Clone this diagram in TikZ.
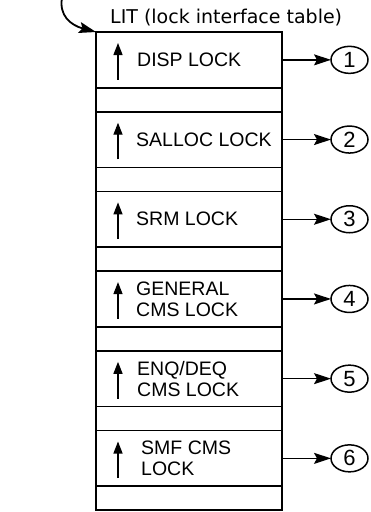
\documentclass[tikz,border=0pt]{standalone}
\usepackage{fontspec}
\setmainfont{Liberation Sans}
\newfontfamily\titlefont{DejaVu Sans}
\usepackage{xcolor}
\usetikzlibrary{shapes.geometric,arrows.meta,positioning}
\definecolor{LitInk}{HTML}{000000}
\definecolor{LitPaper}{HTML}{FFFFFF}
\tikzset{
    % Table cells
    lockcell/.style={
        rectangle,
        draw=LitInk,
        line width=1.6pt,
        fill=LitPaper,
        minimum width=186pt,
        minimum height=55.7pt,
        inner sep=0pt,
        outer sep=0pt
    },
    gapcell/.style={
        lockcell,
        minimum height=24pt
    },
    locktext/.style={
        anchor=west,
        inner sep=0pt,
        align=left,
        text=LitInk,
        font=\fontsize{19.5}{21}\selectfont
    },
    numcircle/.style={
        ellipse,
        draw=LitInk,
        line width=1.5pt,
        minimum width=37pt,
        minimum height=27pt,
        inner sep=0pt,
        outer sep=0pt,
        font=\fontsize{22}{22}\selectfont
    },
    titletext/.style={
        anchor=base west,
        inner sep=0pt,
        font=\titlefont\fontsize{19}{19}\selectfont
    },
    uparrow/.style={
        -{Triangle[length=12pt,width=9pt]},
        line width=1.3pt,
        color=LitInk
    },
    arrow/.style={
        -{Stealth[length=17pt,width=11pt,inset=3pt]},
        line width=1.3pt,
        color=LitInk
    },
    bigarrow/.style={
        arrow,
        line width=1.8pt
    }
}
\begin{document}
\begin{tikzpicture}[x=1pt,y=1pt]
        \useasboundingbox[fill=LitPaper] (0,0) rectangle (370,-512);

        % Table
        \node[lockcell, anchor=north west] (disp) at (96,-32) {};
        \node[gapcell, below=0pt of disp] (dispgap) {};
        \node[lockcell, below=0pt of dispgap] (salloc) {};
        \node[gapcell, below=0pt of salloc] (sallocgap) {};
        \node[lockcell, below=0pt of sallocgap] (srm) {};
        \node[gapcell, below=0pt of srm] (srmgap) {};
        \node[lockcell, below=0pt of srmgap] (general) {};
        \node[gapcell, below=0pt of general] (generalgap) {};
        \node[lockcell, below=0pt of generalgap] (enqdeq) {};
        \node[gapcell, below=0pt of enqdeq] (enqdeqgap) {};
        \node[lockcell, below=0pt of enqdeqgap] (smf) {};
        \node[gapcell, below=0pt of smf] (smfgap) {};

        % Title and pointer
        \node[titletext] (lit) at (110,-23) {LIT (lock interface table)};
        \coordinate (litptr) at (62,2);
        \draw[bigarrow] (litptr) .. controls (59,-15) and (70,-25) .. (disp.north west);

        % Lock names
        \node[locktext, right=41pt of disp.west] (disptext) {DISP LOCK};
        \node[locktext, right=40pt of salloc.west] (salloctext) {SALLOC LOCK};
        \node[locktext, right=40pt of srm.west] (srmtext) {SRM LOCK};
        \node[locktext, right=40pt of general.west] (generaltext) {GENERAL\\CMS LOCK};
        \node[locktext, right=41pt of enqdeq.west] (enqdeqtext) {ENQ/DEQ\\CMS LOCK};
        \node[locktext, right=45pt of smf.west] (smftext) {SMF CMS\\LOCK};

        % Up arrows
        \draw[uparrow] ([xshift=22pt,yshift=8pt]disp.south west) -- ([xshift=22pt,yshift=-11pt]disp.north west);
        \draw[uparrow] ([xshift=22pt,yshift=8pt]salloc.south west) -- ([xshift=22pt,yshift=-11pt]salloc.north west);
        \draw[uparrow] ([xshift=22pt,yshift=8pt]srm.south west) -- ([xshift=22pt,yshift=-11pt]srm.north west);
        \draw[uparrow] ([xshift=22pt,yshift=8pt]general.south west) -- ([xshift=22pt,yshift=-11pt]general.north west);
        \draw[uparrow] ([xshift=22pt,yshift=8pt]enqdeq.south west) -- ([xshift=22pt,yshift=-11pt]enqdeq.north west);
        \draw[uparrow] ([xshift=22pt,yshift=8pt]smf.south west) -- ([xshift=22pt,yshift=-11pt]smf.north west);

        % Numbered targets
        \node[numcircle, right=49pt of disp] (n1) {1};
        \node[numcircle, right=49pt of salloc] (n2) {2};
        \node[numcircle, right=49pt of srm] (n3) {3};
        \node[numcircle, right=49pt of general] (n4) {4};
        \node[numcircle, right=49pt of enqdeq] (n5) {5};
        \node[numcircle, right=49pt of smf] (n6) {6};

        % Arrows
        \draw[arrow] (disp) -- (n1);
        \draw[arrow] (salloc) -- (n2);
        \draw[arrow] (srm) -- (n3);
        \draw[arrow] (general) -- (n4);
        \draw[arrow] (enqdeq) -- (n5);
        \draw[arrow] (smf) -- (n6);
    \end{tikzpicture}
\end{document}
